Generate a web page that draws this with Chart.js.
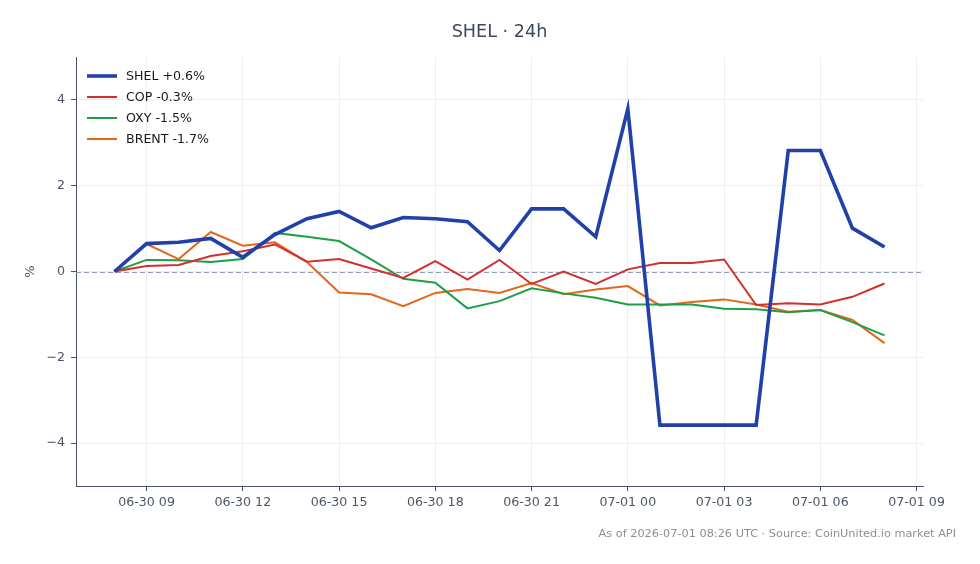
<!DOCTYPE html>
<html>
<head>
<meta charset="utf-8">
<script src="https://cdn.jsdelivr.net/npm/chart.js@4.4.0/dist/chart.umd.min.js"></script>
<style>
  html, body { margin: 0; padding: 0; background: #ffffff; }
  #wrap { width: 980px; height: 564px; }
</style>
</head>
<body>
<div id="wrap"><canvas id="c" width="980" height="564"></canvas></div>
<script>
// Hours since 2026-06-30 00:00 UTC (hourly samples 06-30 08:00 .. 07-01 08:00)
const hours = [8, 9, 10, 11, 12, 13, 14, 15, 16, 17, 18, 19, 20, 21, 22, 23, 24, 25, 26, 27, 28, 29, 30, 31, 32];

const shel  = [0, 0.65, 0.68, 0.77, 0.33, 0.86, 1.23, 1.40, 1.02, 1.26, 1.23, 1.16, 0.49, 1.46, 1.46, 0.81, 3.79, -3.58, -3.58, -3.58, -3.58, 2.82, 2.82, 1.01, 0.57];
const cop   = [0, 0.13, 0.15, 0.36, 0.47, 0.63, 0.23, 0.29, 0.07, -0.15, 0.24, -0.19, 0.27, -0.29, 0.0, -0.29, 0.05, 0.20, 0.20, 0.28, -0.78, -0.74, -0.77, -0.59, -0.28];
const oxy   = [0, 0.27, 0.26, 0.22, 0.29, 0.90, 0.81, 0.71, 0.28, -0.17, -0.26, -0.86, -0.69, -0.39, -0.51, -0.61, -0.77, -0.77, -0.77, -0.87, -0.88, -0.95, -0.90, -1.18, -1.49];
const brent = [0, 0.64, 0.29, 0.92, 0.60, 0.68, 0.22, -0.49, -0.53, -0.81, -0.50, -0.41, -0.50, -0.27, -0.53, -0.42, -0.34, -0.79, -0.71, -0.65, -0.77, -0.94, -0.90, -1.13, -1.67];

const seriesNames = ['SHEL +0.6%', 'COP -0.3%', 'OXY -1.5%', 'BRENT -1.7%'];

const xTickHours  = [9, 12, 15, 18, 21, 24, 27, 30, 33];
const xTickLabels = ['06-30 09', '06-30 12', '06-30 15', '06-30 18', '06-30 21', '07-01 00', '07-01 03', '07-01 06', '07-01 09'];
const yTickValues = [-4, -2, 0, 2, 4];

const titleText  = 'SHEL · 24h';
const yAxisTitle = '%';
const footerText = 'As of 2026-07-01 08:26 UTC · Source: CoinUnited.io market API';

const FONT = '"DejaVu Sans", "Liberation Sans", sans-serif';
const colors = ['#2141a8', '#d32f2f', '#1f9e48', '#e3661c'];
const widths = [3.6, 2, 2, 2];

function pts(arr) { return arr.map((v, i) => ({ x: hours[i], y: v })); }

const datasets = [shel, cop, oxy, brent].map((arr, i) => ({
  label: seriesNames[i],
  data: pts(arr),
  borderColor: colors[i],
  backgroundColor: colors[i],
  borderWidth: widths[i],
  pointRadius: 0,
  tension: 0,
  fill: false,
  order: i
}));

const extras = {
  id: 'extras',
  beforeDatasetsDraw(chart) {
    const { ctx, chartArea, scales } = chart;
    const y0 = scales.y.getPixelForValue(0);
    ctx.save();
    ctx.strokeStyle = '#8e9bb3';
    ctx.lineWidth = 1;
    ctx.setLineDash([5, 3]);
    ctx.beginPath();
    ctx.moveTo(chartArea.left, Math.round(y0) + 0.5);
    ctx.lineTo(chartArea.right, Math.round(y0) + 0.5);
    ctx.stroke();
    ctx.restore();
  },
  afterDatasetsDraw(chart) {
    const { ctx, chartArea } = chart;
    ctx.save();
    // legend
    const lx = chartArea.left + 11, ly = chartArea.top + 19;
    ctx.font = '12.6px ' + FONT;
    ctx.textBaseline = 'middle';
    ctx.textAlign = 'left';
    seriesNames.forEach((name, i) => {
      const y = ly + i * 21;
      ctx.strokeStyle = colors[i];
      ctx.lineWidth = widths[i];
      ctx.beginPath();
      ctx.moveTo(lx, y);
      ctx.lineTo(lx + 30, y);
      ctx.stroke();
      ctx.fillStyle = '#1a1a1a';
      ctx.fillText(name, lx + 39, y + 0.5);
    });
    // title
    ctx.font = '17.6px ' + FONT;
    ctx.fillStyle = '#3d4a5c';
    ctx.textAlign = 'center';
    ctx.fillText(titleText, (chartArea.left + chartArea.right) / 2, 32);
    // y-axis title
    ctx.save();
    ctx.translate(31, (chartArea.top + chartArea.bottom) / 2);
    ctx.rotate(-Math.PI / 2);
    ctx.font = '13px ' + FONT;
    ctx.fillStyle = '#4a5568';
    ctx.fillText(yAxisTitle, 0, 0);
    ctx.restore();
    // footer
    ctx.font = '11.3px ' + FONT;
    ctx.fillStyle = '#8a8f98';
    ctx.textAlign = 'right';
    ctx.fillText(footerText, 956, 534);
    ctx.restore();
  }
};

new Chart(document.getElementById('c'), {
  type: 'line',
  data: { datasets },
  options: {
    responsive: false,
    animation: false,
    events: [],
    layout: { padding: { top: 57, right: 57, left: 0, bottom: 0 } },
    plugins: { legend: { display: false }, tooltip: { enabled: false }, title: { display: false } },
    scales: {
      x: {
        type: 'linear',
        min: 6.8,
        max: 33.2,
        afterBuildTicks(scale) { scale.ticks = xTickHours.map(v => ({ value: v })); },
        afterFit(scale) { scale.height = 78; },
        ticks: {
          autoSkip: false,
          maxRotation: 0,
          color: '#4a5568',
          font: { family: FONT, size: 12.6 },
          padding: 4,
          callback(value) { const i = xTickHours.indexOf(value); return i >= 0 ? xTickLabels[i] : ''; }
        },
        grid: { color: '#eceef1', lineWidth: 1, tickColor: '#4a5568', tickLength: 5, drawTicks: true },
        border: { color: '#4a5568', width: 1 }
      },
      y: {
        min: -5,
        max: 5,
        afterBuildTicks(scale) { scale.ticks = yTickValues.map(v => ({ value: v })); },
        afterFit(scale) { scale.width = 76; },
        title: { display: false },
        ticks: {
          color: '#4a5568',
          font: { family: FONT, size: 12.6 },
          padding: 6,
          callback(value) { return value < 0 ? '\u2212' + Math.abs(value) : String(value); }
        },
        grid: { color: '#eceef1', lineWidth: 1, tickColor: '#4a5568', tickLength: 5, drawTicks: true },
        border: { color: '#4a5568', width: 1 }
      }
    }
  },
  plugins: [extras]
});
</script>
</body>
</html>
